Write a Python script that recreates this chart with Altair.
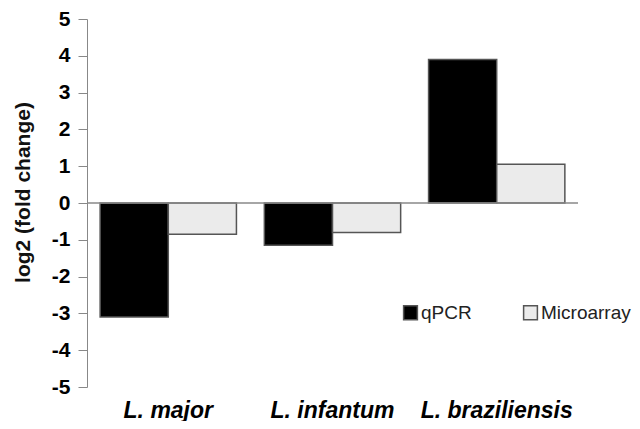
import altair as alt
import pandas as pd

species = ["L. major", "L. infantum", "L. braziliensis"]
methods = ["qPCR", "Microarray"]
qpcr = [-3.1, -1.15, 3.9]
microarray = [-0.85, -0.8, 1.05]
y_ticks = [-5, -4, -3, -2, -1, 0, 1, 2, 3, 4, 5]

rows = []
for s, q, m in zip(species, qpcr, microarray):
    rows.append({"species": s, "method": "qPCR", "value": q})
    rows.append({"species": s, "method": "Microarray", "value": m})
df = pd.DataFrame(rows)
zero = pd.DataFrame({"y": [0]})

FONT = "Liberation Sans"

bars = alt.Chart(df).mark_bar(stroke="#555555", strokeWidth=1.5).encode(
    x=alt.X("species:N", sort=species,
            scale=alt.Scale(paddingInner=0.17, paddingOuter=0.08),
            axis=alt.Axis(title=None, domain=False, ticks=False, labelAngle=0,
                          labelFont=FONT, labelFontSize=23, labelFontWeight="bold",
                          labelFontStyle="italic", labelColor="#000000", labelPadding=12)),
    xOffset=alt.XOffset("method:N", sort=methods, scale=alt.Scale(paddingInner=0, paddingOuter=0)),
    y=alt.Y("value:Q",
            scale=alt.Scale(domain=[-5, 5], nice=False, zero=False),
            axis=alt.Axis(title="log2 (fold change)", values=y_ticks,
                          labelExpr="'' + datum.value", labelOverlap=False,
                          grid=False, domainColor="#888888", tickColor="#888888",
                          tickSize=9, labelPadding=8, titlePadding=18, titleY=173,
                          labelFont=FONT, labelFontSize=21, labelFontWeight="bold",
                          labelColor="#000000",
                          titleFont=FONT, titleFontSize=21, titleFontWeight="bold",
                          titleColor="#111111")),
    color=alt.Color("method:N", sort=methods,
                    scale=alt.Scale(domain=methods, range=["#000000", "#ebebeb"]),
                    legend=alt.Legend(title=None, orient="none", legendX=314, legendY=284,
                                      direction="horizontal", columns=2, columnPadding=48,
                                      symbolType="square", symbolSize=190,
                                      symbolStrokeColor="#555555", symbolStrokeWidth=1.5,
                                      labelFont=FONT, labelFontSize=19, labelColor="#222222",
                                      labelOffset=1)),
)

rule = alt.Chart(zero).mark_rule(color="#888888", strokeWidth=1.5).encode(
    y=alt.Y("y:Q", axis=None)
)

chart = alt.layer(bars, rule).resolve_axis(y="independent").properties(
    width=491, height=368,
    autosize=alt.AutoSizeParams(type="none"),
    padding={"left": 79, "top": 11, "right": 54, "bottom": 34},
).configure_view(stroke=None).configure_axis(labelOverlap=False)

chart.save("out.html", embed_options={"renderer": "svg", "actions": False})
